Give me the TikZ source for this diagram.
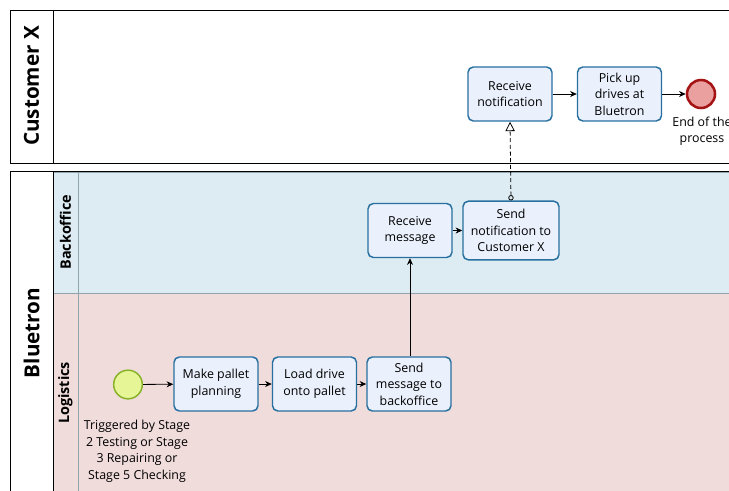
\documentclass[tikz,border=0pt]{standalone}
\usepackage{fontspec}
\setmainfont{Open Sans}
\usetikzlibrary{arrows.meta}
\definecolor{taskfill}{RGB}{234,240,252}
\definecolor{taskline}{RGB}{40,112,160}
\definecolor{backfill}{RGB}{220,236,242}
\definecolor{logifill}{RGB}{241,220,220}
\definecolor{laneline}{RGB}{145,165,172}
\definecolor{startfill}{RGB}{230,245,150}
\definecolor{startline}{RGB}{135,178,40}
\definecolor{endfill}{RGB}{235,160,160}
\definecolor{endline}{RGB}{165,20,20}
\tikzset{
  task/.style={draw=taskline, line width=1.1pt, fill=taskfill, rounded corners=4pt,
    minimum width=63pt, minimum height=40.5pt, align=center, inner sep=1pt,
    font=\fontsize{9.3pt}{12.4pt}\selectfont},
  startev/.style={circle, draw=startline, line width=1.1pt, fill=startfill, minimum size=21.5pt, inner sep=0},
  endev/.style={circle, draw=endline, line width=1.9pt, fill=endfill, minimum size=21pt, inner sep=0},
  evlabel/.style={align=center, font=\fontsize{9.3pt}{12.4pt}\selectfont, inner sep=0},
  flow/.style={line width=0.6pt, -{Stealth[length=5pt,width=4.5pt]}},
  msgflow/.style={line width=0.6pt, dashed, dash pattern=on 3pt off 2pt,
    {Circle[open,length=4pt,width=4pt]}-{Triangle[open,length=7pt,width=7pt]}},
  poolline/.style={line width=0.75pt, draw=black},
  lanesep/.style={line width=0.75pt, draw=laneline},
  pooltitle/.style={rotate=90, font=\bfseries\fontsize{15.5pt}{18pt}\selectfont, inner sep=0},
  lanetitle/.style={rotate=90, font=\bfseries\fontsize{10.8pt}{12pt}\selectfont, inner sep=0},
}
\begin{document}
\begin{tikzpicture}[x=0.75pt, y=-0.75pt]
\useasboundingbox (0,0) rectangle (729,490);
\clip (0,0) rectangle (729,490);
\fill[white] (0,0) rectangle (729,490);

% Customer X pool
\draw[poolline] (760,10.5) -- (10.5,10.5) -- (10.5,163) -- (760,163);
\draw[poolline] (53,10.5) -- (53,163);
\node[pooltitle] (custx) at (31.5,86) {Customer X};

% Bluetron pool with its two lanes
\fill[backfill] (53,172) rectangle (760,293);
\fill[logifill] (53,293) rectangle (760,500);
\draw[lanesep] (53,172) -- (760,172);
\draw[lanesep] (53,293) -- (760,293);
\draw[lanesep] (78.5,172) -- (78.5,500);
\draw[poolline] (760,171.5) -- (10.5,171.5) -- (10.5,500);
\draw[poolline] (53,171.5) -- (53,500);
\node[pooltitle] (bluetron) at (31.5,333) {Bluetron};
\node[lanetitle] (backoffice) at (65.5,232) {Backoffice};
\node[lanetitle] (logistics) at (65.5,393) {Logistics};

% Logistics lane
\node[startev] (start) at (128,384.5) {};
\node[evlabel, anchor=north] (startlbl) at (137,420) {Triggered by Stage\\2 Testing or Stage\\3 Repairing or\\Stage 5 Checking};
\node[task] (plan) at (216,384) {Make pallet\\planning};
\node[task] (load) at (314.5,384) {Load drive\\onto pallet};
\node[task] (sendmsg) at (409,384) {Send\\message to\\backoffice};

% Backoffice lane
\node[task] (recvmsg) at (410,230.5) {Receive\\message};
\node[task, minimum width=72pt, minimum height=44pt] (sendnote) at (511,230.5) {Send\\notification to\\Customer X};

% Customer X lane
\node[task] (recvnote) at (510,94) {Receive\\notification};
\node[task] (pickup) at (619.5,94) {Pick up\\drives at\\Bluetron};
\node[endev] (end) at (701,94) {};
\node[evlabel, anchor=north] (endlbl) at (702,116.5) {End of the\\process};

% Sequence flows
\draw[flow] (start) -- (plan);
\draw[flow] (plan) -- (load);
\draw[flow] (load) -- (sendmsg);
\draw[flow] (sendmsg.north -| recvmsg.south) -- (recvmsg.south);
\draw[flow] (recvmsg) -- (sendnote);
\draw[flow] (recvnote) -- (pickup);
\draw[flow] (pickup) -- (end);

% Message flow
\draw[msgflow] (sendnote.north) -- (recvnote.south);
\end{tikzpicture}
\end{document}
